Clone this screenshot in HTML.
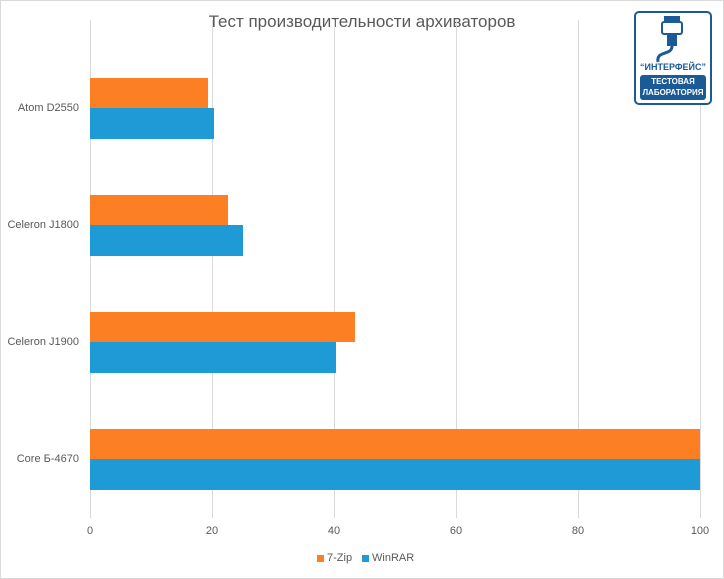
<!DOCTYPE html><html><head><style>
body{margin:0;width:724px;height:579px;background:#fff;font-family:"Liberation Sans",sans-serif;}
.r{position:absolute}
.l{position:absolute;font-size:11px;color:#595959}
</style></head><body>
<div class="r" style="left:0;top:0;width:722px;height:577px;border:1px solid #d9d9d9"></div>
<div class="l" style="left:0;width:724px;top:12px;text-align:center;font-size:17px;color:#595959">Тест производительности архиваторов</div>
<div class="r" style="left:90px;top:20px;width:1px;height:498px;background:#d9d9d9"></div>
<div class="r" style="left:212px;top:20px;width:1px;height:498px;background:#d9d9d9"></div>
<div class="r" style="left:334px;top:20px;width:1px;height:498px;background:#d9d9d9"></div>
<div class="r" style="left:456px;top:20px;width:1px;height:498px;background:#d9d9d9"></div>
<div class="r" style="left:578px;top:20px;width:1px;height:498px;background:#d9d9d9"></div>
<div class="r" style="left:700px;top:20px;width:1px;height:498px;background:#d9d9d9"></div>

<div class="r" style="left:90px;top:78px;width:118px;height:30px;background:#fd7f23"></div>
<div class="r" style="left:90px;top:108px;width:124px;height:31px;background:#1e9ad6"></div>
<div class="r" style="left:90px;top:195px;width:138px;height:30px;background:#fd7f23"></div>
<div class="r" style="left:90px;top:225px;width:153px;height:31px;background:#1e9ad6"></div>
<div class="r" style="left:90px;top:312px;width:265px;height:30px;background:#fd7f23"></div>
<div class="r" style="left:90px;top:342px;width:246px;height:31px;background:#1e9ad6"></div>
<div class="r" style="left:90px;top:429px;width:610px;height:30px;background:#fd7f23"></div>
<div class="r" style="left:90px;top:459px;width:610px;height:31px;background:#1e9ad6"></div>

<div class="l" style="right:645px;top:102px">Atom D2550</div>
<div class="l" style="right:645px;top:219px">Celeron J1800</div>
<div class="l" style="right:645px;top:336px">Celeron J1900</div>
<div class="l" style="right:645px;top:453px">Core Б-4670</div>

<div class="l" style="left:80px;width:20px;text-align:center;top:525px">0</div>
<div class="l" style="left:202px;width:20px;text-align:center;top:525px">20</div>
<div class="l" style="left:324px;width:20px;text-align:center;top:525px">40</div>
<div class="l" style="left:446px;width:20px;text-align:center;top:525px">60</div>
<div class="l" style="left:568px;width:20px;text-align:center;top:525px">80</div>
<div class="l" style="left:688px;width:24px;text-align:center;top:525px">100</div>

<div class="r" style="left:317px;top:555px;width:7px;height:7px;background:#fd7f23"></div>
<div class="l" style="left:327px;top:552px">7-Zip</div>
<div class="r" style="left:362px;top:555px;width:7px;height:7px;background:#1e9ad6"></div>
<div class="l" style="left:372px;top:552px">WinRAR</div>

<div class="r" style="left:634px;top:11px;width:74px;height:90px;border:2px solid #1a5a96;border-radius:5px;background:#fff"></div>
<svg class="r" style="left:650px;top:14px" width="50" height="50"><rect x="14" y="2" width="16" height="6" fill="#1a5a96"/><rect x="12" y="8" width="20" height="12" rx="2" fill="none" stroke="#1a5a96" stroke-width="2"/><rect x="17" y="20" width="10" height="12" fill="#1a5a96"/><path d="M22 32 C22 42 6 36 8 48" stroke="#1a5a96" stroke-width="3" fill="none"/></svg>
<div class="l" style="left:636px;width:74px;text-align:center;top:62px;font-size:9px;font-weight:bold;color:#1a5a96">“ИНТЕРФЕЙС”</div>
<div class="r" style="left:640px;top:75px;width:66px;height:24px;background:#1a5a96;border-radius:3px;color:#fff;font-size:8px;font-weight:bold;text-align:center;line-height:11px;padding-top:1px">ТЕСТОВАЯ<br>ЛАБОРАТОРИЯ</div>
</body></html>
